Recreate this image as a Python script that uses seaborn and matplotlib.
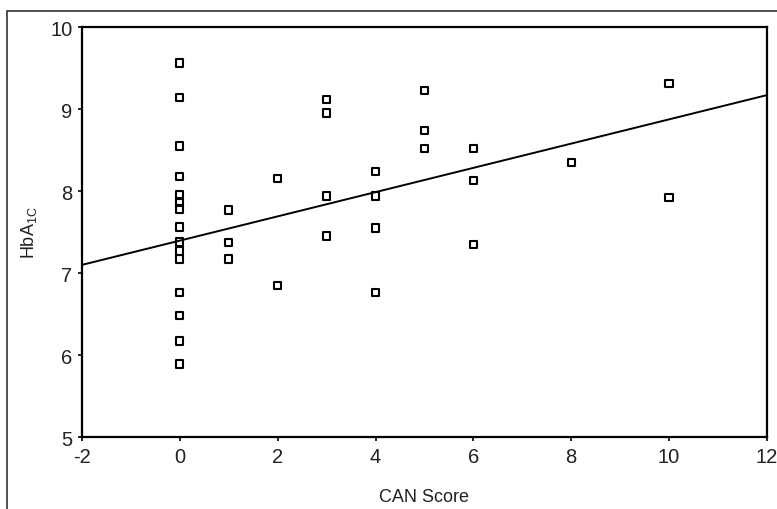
import matplotlib
matplotlib.use("Agg")
import matplotlib.pyplot as plt
import seaborn as sns
import pandas as pd
from matplotlib.patches import Rectangle

# CAN score vs HbA1c
can_score = [0] * 15 + [1] * 3 + [2] * 2 + [3] * 4 + [4] * 4 + [5] * 3 + [6] * 3 + [8] + [10] * 2
hba1c = [
    9.56, 9.14, 8.55, 8.18, 7.96, 7.86, 7.78, 7.56, 7.38, 7.27, 7.17, 6.76, 6.48, 6.17, 5.89,  # 0
    7.77, 7.37, 7.17,                                                                        # 1
    8.15, 6.85,                                                                              # 2
    9.12, 8.95, 7.94, 7.45,                                                                  # 3
    8.24, 7.94, 7.55, 6.76,                                                                  # 4
    9.23, 8.74, 8.52,                                                                        # 5
    8.52, 8.13, 7.35,                                                                        # 6
    8.35,                                                                                    # 8
    9.31, 7.92,                                                                              # 10
]

# regression line as drawn in the figure (endpoints at the axis limits)
fit_x = [-2, 12]
fit_y = [7.10, 9.17]

x_ticks = [-2, 0, 2, 4, 6, 8, 10, 12]
y_ticks = [5, 6, 7, 8, 9, 10]

df = pd.DataFrame({"CAN Score": can_score, "HbA1c": hba1c})
fit = pd.DataFrame({"x": fit_x, "y": fit_y})

sns.set_theme(style="white")
plt.rcParams["font.family"] = ["Liberation Sans", "DejaVu Sans"]
plt.rcParams["mathtext.default"] = "regular"
plt.rcParams["axes.unicode_minus"] = False

fig = plt.figure(figsize=(7.77, 5.10), dpi=100)
ax = fig.add_axes([0.1055, 0.141, 0.8815, 0.804])

sns.lineplot(data=fit, x="x", y="y", color="black", linewidth=1.4, ax=ax)
sns.scatterplot(data=df, x="CAN Score", y="HbA1c", marker="s", s=28,
                facecolor="none", edgecolor="black", linewidth=1.5, ax=ax)

ax.set_xlim(-2, 12)
ax.set_ylim(5, 10)
ax.set_xticks(x_ticks)
ax.set_yticks(y_ticks)
ax.tick_params(axis="both", which="major", direction="out", length=3, width=1.2,
               color="black", labelsize=14.5, labelcolor="#222222", pad=4,
               bottom=True, left=True)
ax.set_xlabel("CAN Score", fontsize=13, color="#222222", labelpad=16)
ax.set_ylabel("HbA$_{1C}$", fontsize=13, color="#222222", labelpad=8)

for sp in ax.spines.values():
    sp.set_color("black")
    sp.set_linewidth(1.6)
    sp.set_visible(True)

# outer frame of the scanned figure
fig.patches.append(Rectangle((7 / 777, -0.05), 1.2, (510 - 12) / 510 + 0.05,
                             transform=fig.transFigure, fill=False,
                             edgecolor="#333333", linewidth=1.2))

fig.savefig("out.png", dpi=100)
